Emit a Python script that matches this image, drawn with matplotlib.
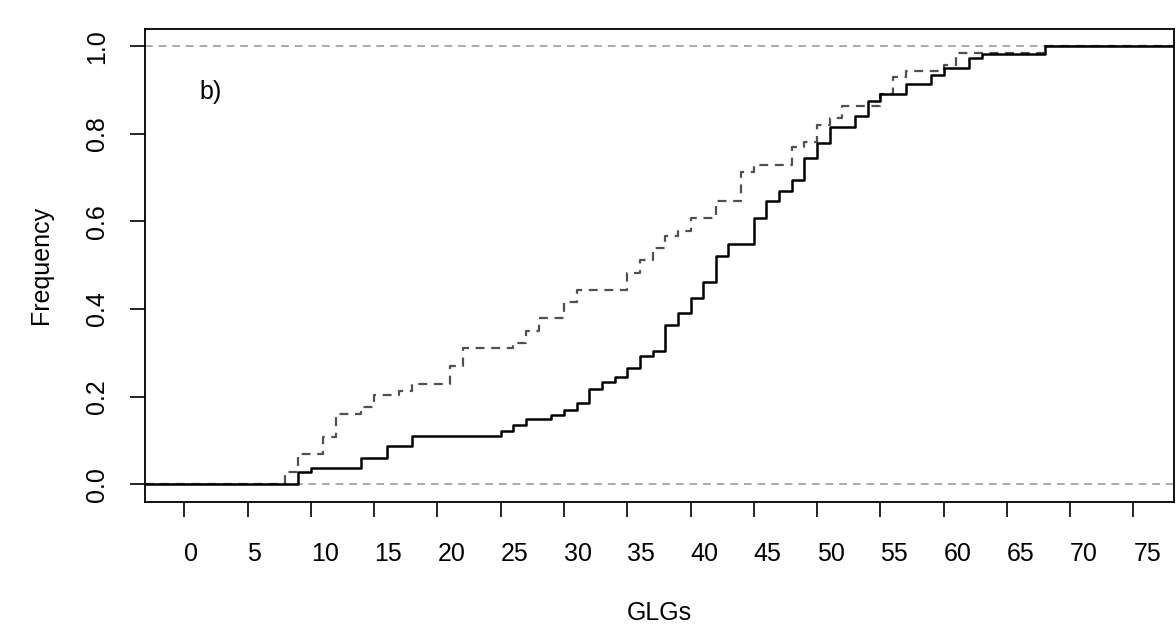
import numpy as np
from matplotlib import pyplot as plt

plt.rcParams['font.family'] = ['Liberation Sans', 'DejaVu Sans']

# ecdf jump points and levels
solid_x = [9, 10, 14, 16, 18, 25, 26, 27, 29, 30, 31, 32, 33, 34, 35, 36, 37, 38, 39,
           40, 41, 42, 43, 45, 46, 47, 48, 49, 50, 51, 53, 54, 55, 57, 59, 60, 62, 63, 68]
solid_y = [0.027, 0.037, 0.06, 0.087, 0.11, 0.121, 0.135, 0.148, 0.157, 0.170, 0.186,
           0.217, 0.234, 0.245, 0.266, 0.292, 0.304, 0.363, 0.391, 0.425, 0.462, 0.521,
           0.548, 0.608, 0.646, 0.669, 0.694, 0.744, 0.778, 0.816, 0.841, 0.875, 0.892,
           0.913, 0.935, 0.951, 0.972, 0.983, 1.0]
dashed_x = [8, 9, 11, 12, 14, 15, 17, 18, 21, 22, 26, 27, 28, 30, 31, 35, 36, 37, 38,
            39, 40, 42, 44, 45, 48, 49, 50, 51, 52, 55, 56, 57, 60, 61, 68]
dashed_y = [0.027, 0.068, 0.108, 0.161, 0.177, 0.203, 0.213, 0.228, 0.27, 0.311, 0.323,
            0.35, 0.380, 0.416, 0.444, 0.483, 0.511, 0.54, 0.567, 0.578, 0.608, 0.646,
            0.713, 0.728, 0.769, 0.781, 0.821, 0.837, 0.863, 0.892, 0.93, 0.943, 0.958,
            0.985, 1.0]
x_ticks = list(range(0, 80, 5))
y_ticks = [0.0, 0.2, 0.4, 0.6, 0.8, 1.0]

XMIN, XMAX = -3.1, 78.2


def ecdf_line(xs, ys):
    """Extend step data to the plot edges"""
    x = [XMIN] + xs + [XMAX]
    y = [0.0] + ys + [ys[-1]]
    return x, y


fig = plt.figure(figsize=(11.76, 6.29), dpi=100)
ax = fig.add_axes([0.1233, 0.2024, 0.875, 0.752])

ax.axhline(0, color='#aaaaaa', ls=(0, (4, 3)), lw=1.4)
ax.axhline(1, color='#aaaaaa', ls=(0, (4, 3)), lw=1.4)

x, y = ecdf_line(dashed_x, dashed_y)
ax.step(x, y, where='post', color='#505050', ls=(0, (4, 3)), lw=1.6)
x, y = ecdf_line(solid_x, solid_y)
ax.step(x, y, where='post', color='black', lw=1.8)

ax.set_xlim(XMIN, XMAX)
ax.set_ylim(-0.04, 1.04)
ax.set_xticks(x_ticks)
ax.set_xticklabels([str(t) for t in x_ticks], ha='left')
ax.set_yticks(y_ticks)
ax.set_yticklabels(['%.1f' % t for t in y_ticks], rotation=90, va='center')
ax.tick_params(axis='x', length=11, width=1.2, pad=18, labelsize=18)
ax.tick_params(axis='y', length=11, width=1.2, pad=15, labelsize=18)
for sp in ax.spines.values():
    sp.set_linewidth(1.3)

ax.text(1.2, 0.895, 'b)', fontsize=18, va='center', ha='left')
ax.set_xlabel('GLGs', fontsize=18, labelpad=25)
ax.set_ylabel('Frequency', fontsize=18, labelpad=23)

plt.savefig('out.png', dpi=100)
